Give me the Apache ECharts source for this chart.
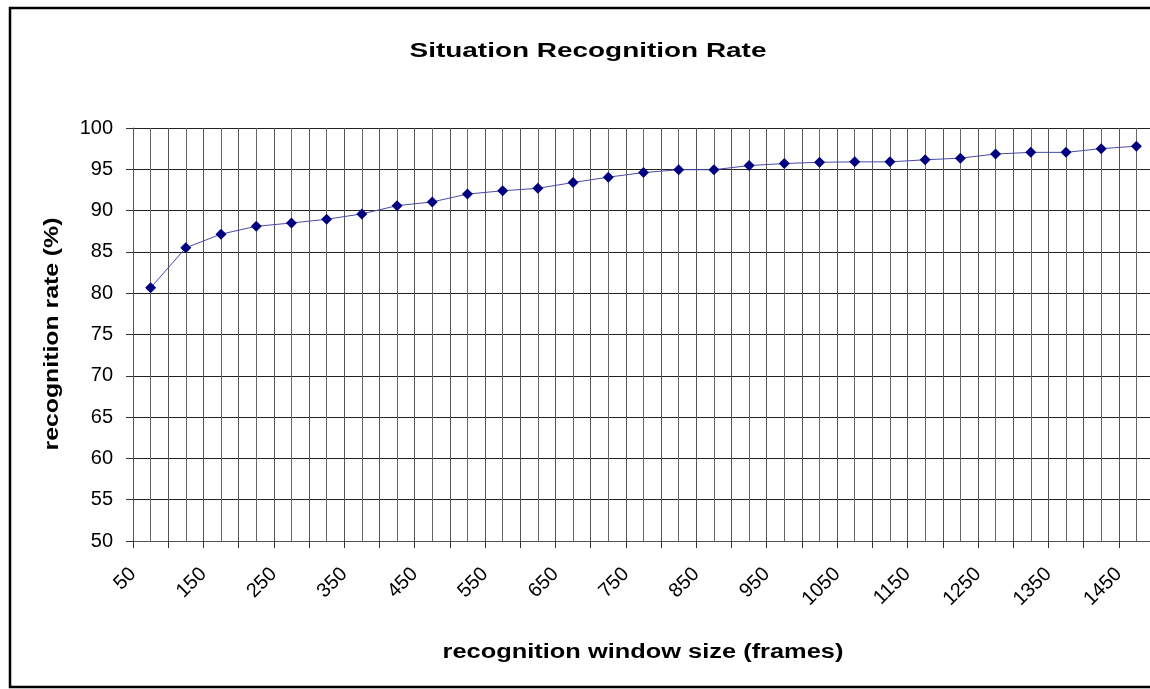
<!DOCTYPE html>
<html>
<head>
<meta charset="utf-8">
<script src="https://cdn.jsdelivr.net/npm/echarts@6/dist/echarts.min.js"></script>
<style>
html,body{margin:0;padding:0;background:#fff;}
#chart{width:1150px;height:689px;}
</style>
</head>
<body>
<div id="chart"></div>
<script>
const windowSizes = [75,125,175,225,275,325,375,425,475,525,575,625,675,725,775,825,875,925,975,1025,1075,1125,1175,1225,1275,1325,1375,1425,1475];
const recognitionRate = [80.65,85.5,87.15,88.1,88.5,88.95,89.6,90.6,91.05,92.0,92.4,92.7,93.4,94.05,94.6,94.95,94.95,95.45,95.7,95.85,95.9,95.9,96.15,96.35,96.85,97.05,97.05,97.5,97.8];
const titleText = 'Situation Recognition Rate';
const xAxisTitle = 'recognition window size (frames)';
const yAxisTitle = 'recognition rate (%)';

const font = '"Liberation Sans", Arial, sans-serif';
const chart = echarts.init(document.getElementById('chart'), null, {renderer:'canvas'});
chart.setOption({
  animation:false,
  backgroundColor:'#fff',
  graphic:[
    {
      type:'rect', silent:true, z:100,
      shape:{x:10, y:8, width:1160, height:679},
      style:{fill:null, stroke:'#000', lineWidth:2.5}
    },
    {
      type:'text', silent:true, x:588, y:51, scaleX:1.33,
      style:{text:titleText, fontFamily:font, fontSize:21, fontWeight:'bold', fill:'#000',
             textAlign:'center', textVerticalAlign:'middle'}
    },
    {
      type:'text', silent:true, x:643, y:652, scaleX:1.27,
      style:{text:xAxisTitle, fontFamily:font, fontSize:20, fontWeight:'bold', fill:'#000',
             textAlign:'center', textVerticalAlign:'middle'}
    },
    {
      type:'text', silent:true, x:52, y:334, scaleX:1.24, rotation:Math.PI/2,
      style:{text:yAxisTitle, fontFamily:font, fontSize:20, fontWeight:'bold', fill:'#000',
             textAlign:'center', textVerticalAlign:'middle'}
    }
  ],
  grid:{left:133, top:128, bottom:148, right:-4, outerBoundsMode:'none', containLabel:false},
  xAxis:{
    type:'value', min:50, max:1500, interval:50,
    axisLine:{show:true, lineStyle:{color:'#555', width:1}},
    axisTick:{show:true, length:7, lineStyle:{color:'#333'}},
    axisLabel:{
      rotate:45, margin:30, fontFamily:font, fontSize:20, color:'#000',
      showMaxLabel:false,
      formatter:function(v){ return ((v-50)%100===0) ? String(v) : ''; }
    },
    splitLine:{show:true, lineStyle:{color:'#555', width:1}},
    minorTick:{show:false, splitNumber:2},
    minorSplitLine:{show:true, lineStyle:{color:'#666', width:1}}
  },
  yAxis:{
    type:'value', min:50, max:100, interval:5,
    axisLine:{show:true, lineStyle:{color:'#555', width:1}},
    axisTick:{show:true, length:7, lineStyle:{color:'#333'}},
    axisLabel:{margin:20, fontFamily:font, fontSize:20, color:'#000'},
    splitLine:{show:true, lineStyle:{color:'#222', width:1}}
  },
  series:[{
    type:'line',
    data:windowSizes.map((x,i)=>[x, recognitionRate[i]]),
    symbol:'diamond', symbolSize:11,
    itemStyle:{color:'#000080'},
    lineStyle:{color:'#4a4aa8', width:1},
    z:10
  }]
});
</script>
</body>
</html>
